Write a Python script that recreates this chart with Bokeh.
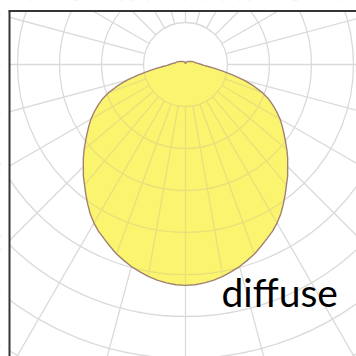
import numpy as np
from bokeh.plotting import figure
from bokeh.models import Range1d, Label
from bokeh.embed import file_html
from bokeh.resources import INLINE

# Luminous intensity distribution (symmetric), gamma angle from nadir in degrees
gamma_deg = [0, 2.5, 5, 7.5, 10, 12.5, 15, 17.5, 20, 22.5, 25, 27.5, 30, 32.5, 35, 37.5,
             40, 42.5, 45, 47.5, 50, 52.5, 55, 57.5, 60, 62.5, 65, 67.5, 70, 72.5, 75,
             77.5, 80, 82.5, 85, 87.5, 90, 95, 100, 110, 120, 135, 150, 165, 180]
intensity = [263, 262.5, 261, 259, 256, 252.5, 249, 244.5, 240, 234.5, 229, 224, 218, 211,
             203, 195, 187, 180, 172, 165, 157.5, 150, 143, 136.5, 130, 122.5, 115, 107,
             97, 85, 72, 58, 45, 35, 27, 22, 19, 15, 12, 10, 7, 5, 4, 3, 1]
ring_values = [50, 100, 150, 200, 250, 300, 350, 400, 450]
outer_ray_step = 15
inner_ray_step = 10
label_text = "diffuse"

GRID = "#dadada"
GRID_IN = "#e8e07c"
FILL = "#faf46e"
EDGE = "#a08272"
FRAME = "#353535"

K = 42 / 50.0          # pixels per intensity unit
W = H = 356
cx_px, cy_px = 185, 64  # pole position (pixels from left / top)
xs0, xs1 = -cx_px / K, (W - cx_px) / K
ys0, ys1 = -(H - cy_px) / K, cy_px / K

p = figure(width=W, height=H, x_range=Range1d(xs0, xs1), y_range=Range1d(ys0, ys1),
           output_backend="svg", toolbar_location=None, min_border=0,
           x_axis_location=None, y_axis_location=None)
p.grid.visible = False
p.outline_line_color = None
p.background_fill_color = "white"
p.border_fill_color = "white"

g = np.radians(np.array(gamma_deg, dtype=float))
I = np.array(intensity, dtype=float)
rings = np.array(ring_values, dtype=float)
r0 = rings[0]
rmax = rings[-1] + 100

# rings
p.circle(x=np.zeros(len(rings)), y=np.zeros(len(rings)), radius=rings,
         fill_color=None, line_color=GRID, line_width=1.3)

# outer rays
a = np.radians(np.arange(0, 360, outer_ray_step))
p.segment(x0=r0 * np.sin(a), y0=-r0 * np.cos(a), x1=rmax * np.sin(a), y1=-rmax * np.cos(a),
          line_color=GRID, line_width=1.3)

# curve polygon
xr = I * np.sin(g)
yr = -I * np.cos(g)
px = np.concatenate([xr, -xr[::-1][1:-1]])
py = np.concatenate([yr, yr[::-1][1:-1]])
p.patch(px, py, fill_color=FILL, line_color=None)

# grid inside the curve
gd = np.array(gamma_deg, dtype=float)
half = gd <= 90
gh = gd[half]
Ih = I[half]
ia = np.arange(-90 + inner_ray_step, 90, inner_ray_step)
ri = np.interp(np.abs(ia), gh, Ih)
m = ri > r0
ar = np.radians(ia[m])
p.segment(x0=r0 * np.sin(ar), y0=-r0 * np.cos(ar), x1=ri[m] * np.sin(ar), y1=-ri[m] * np.cos(ar),
          line_color=GRID_IN, line_width=1.3)
rin = rings[rings < Ih.max()]
th = np.radians(np.interp(rin, Ih[::-1], gh[::-1]))
p.arc(x=np.zeros(len(rin)), y=np.zeros(len(rin)), radius=rin,
      start_angle=-np.pi / 2 - th, end_angle=-np.pi / 2 + th, direction="anticlock",
      line_color=GRID_IN, line_width=1.3)

# curve outline
p.line(np.append(px, px[0]), np.append(py, py[0]), line_color=EDGE, line_width=1.4)

# page margin masks and frame (left and top edges)
xl = xs0 + 9.0 / K
yt = ys1 - 10.5 / K
p.quad(left=[xs0, xs0], right=[xl, xs1], bottom=[ys0, yt], top=[ys1, ys1],
       fill_color="white", line_color=None)
p.segment(x0=[xl, xl - 1.0 / K], y0=[yt, yt], x1=[xl, xs1], y1=[ys0, yt],
          line_color=FRAME, line_width=2)

p.add_layout(Label(x=221, y=65, x_units="screen", y_units="screen", text=label_text,
                   text_font="Lato", text_font_size="39px", text_color="black",
                   text_baseline="alphabetic"))

open("out.html", "w").write(file_html(p, INLINE))
